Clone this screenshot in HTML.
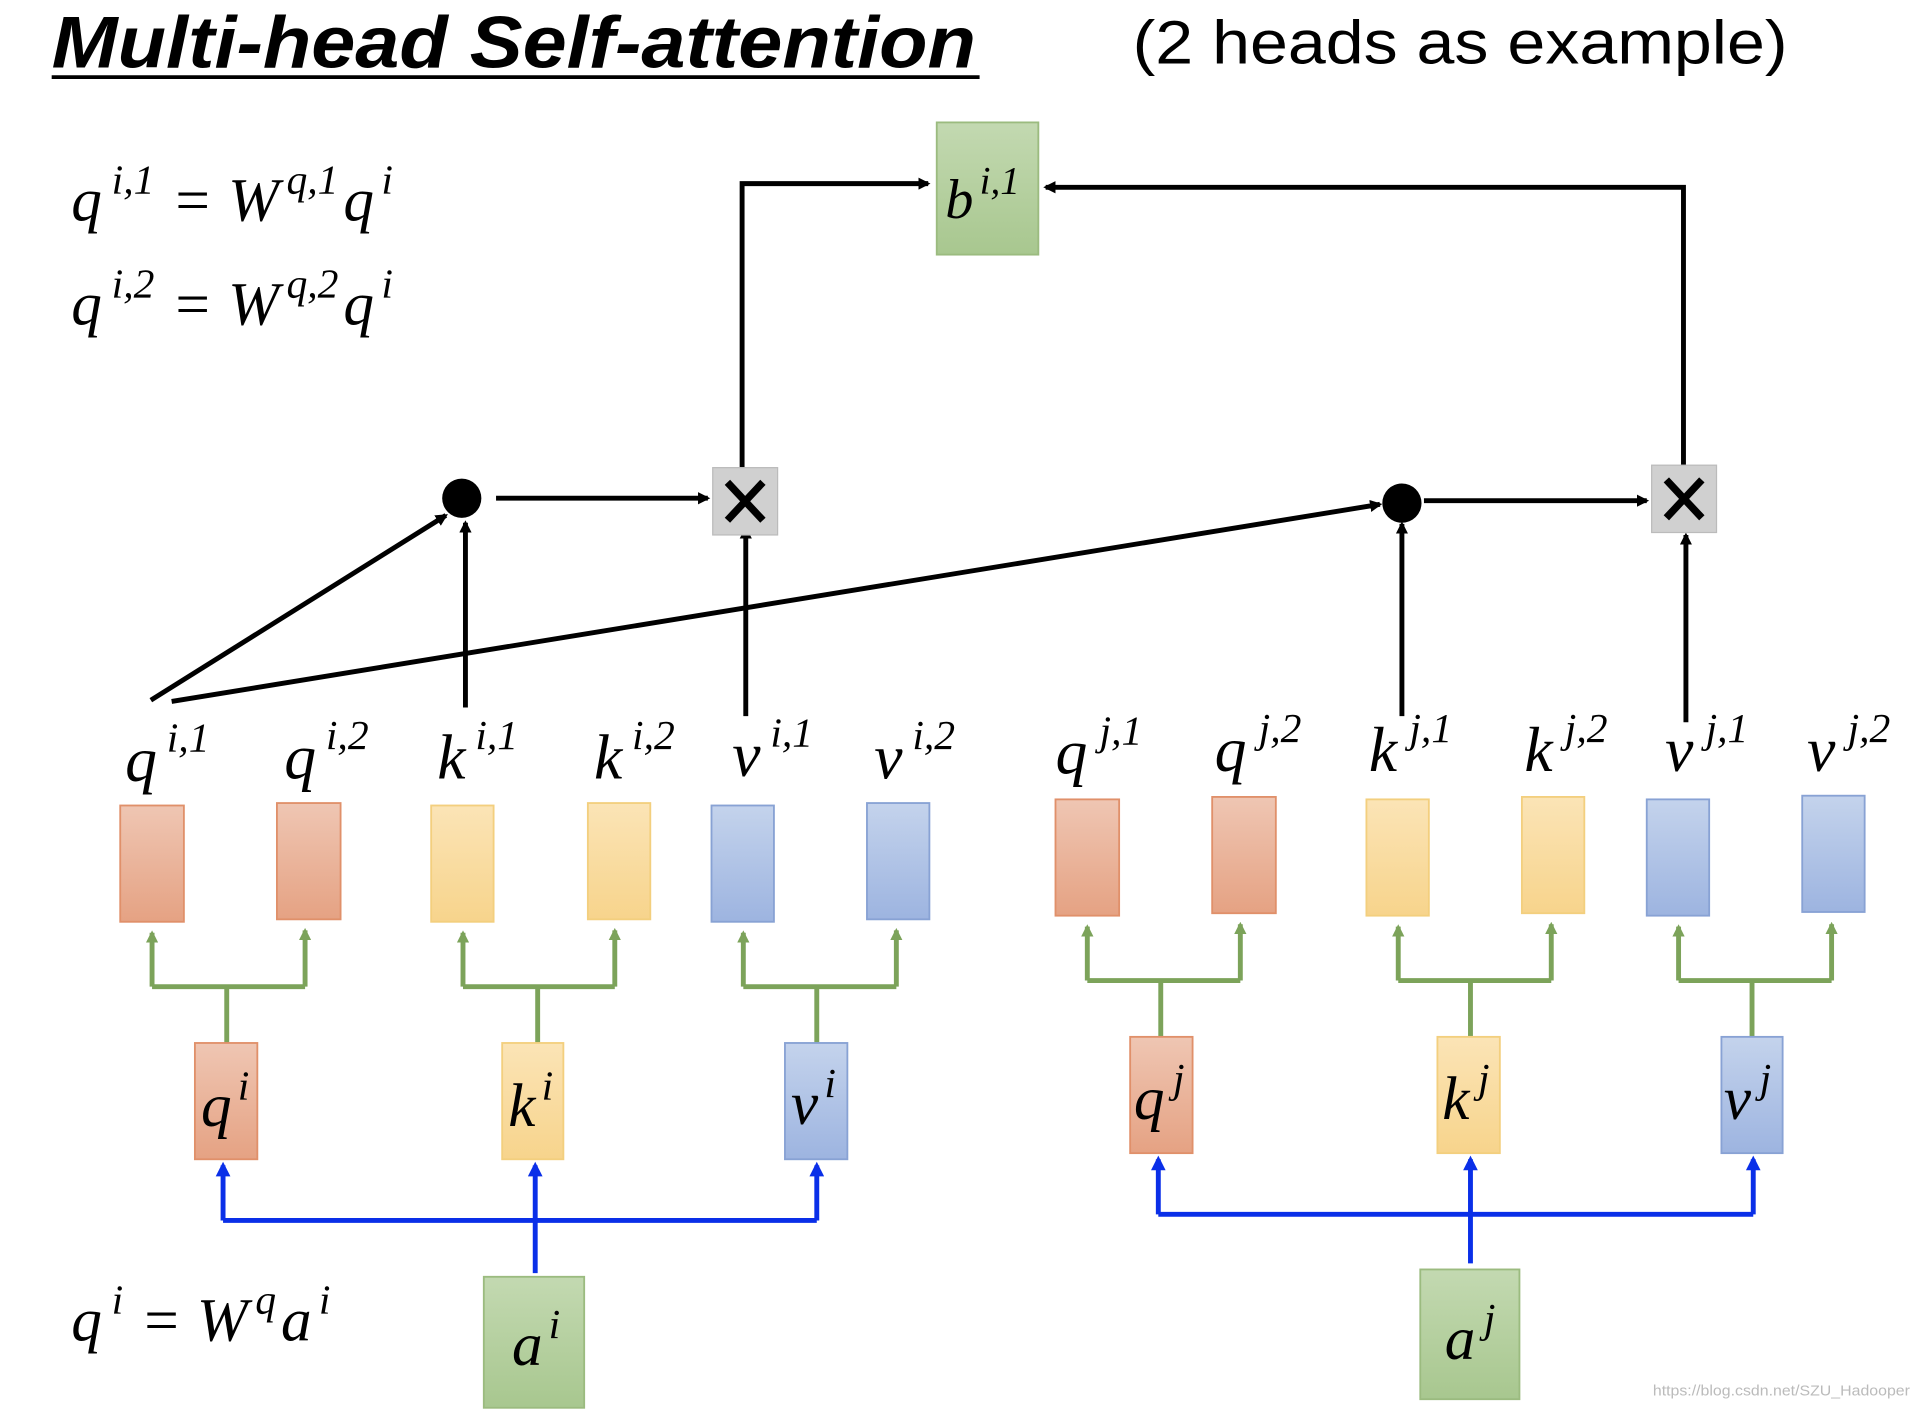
<!DOCTYPE html>
<html><head><meta charset="utf-8"><style>
html,body{margin:0;padding:0;background:#fff;}
svg{display:block}
.m{font-family:"Liberation Serif",serif;font-style:italic;fill:#000}
</style></head><body>
<svg width="1920" height="1409" viewBox="0 0 1568 1151" xmlns="http://www.w3.org/2000/svg">
<defs>
<linearGradient id="go" x1="0" y1="0" x2="0" y2="1"><stop offset="0" stop-color="#efc6b3"/><stop offset="1" stop-color="#e5a283"/></linearGradient>
<linearGradient id="gy" x1="0" y1="0" x2="0" y2="1"><stop offset="0" stop-color="#fbe4b6"/><stop offset="1" stop-color="#f7d48c"/></linearGradient>
<linearGradient id="gb" x1="0" y1="0" x2="0" y2="1"><stop offset="0" stop-color="#c4d3ec"/><stop offset="1" stop-color="#9db4e0"/></linearGradient>
<linearGradient id="gg" x1="0" y1="0" x2="0" y2="1"><stop offset="0" stop-color="#c3d9b1"/><stop offset="1" stop-color="#a8c78f"/></linearGradient>
<marker id="ak" markerWidth="10" markerHeight="10" refX="8" refY="5" orient="auto" markerUnits="userSpaceOnUse"><path d="M0,0 L10,5 L0,10 z" fill="#000"/></marker>
<marker id="ag" markerWidth="10" markerHeight="10" refX="8" refY="5" orient="auto" markerUnits="userSpaceOnUse"><path d="M0,0 L10,5 L0,10 z" fill="#7ca35a"/></marker>
<marker id="abl" markerWidth="12" markerHeight="12" refX="9" refY="6" orient="auto" markerUnits="userSpaceOnUse"><path d="M0,0 L12,6 L0,12 z" fill="#0a2fe8"/></marker>
</defs>
<text x="42" y="55" font-family="Liberation Sans,sans-serif" font-weight="bold" font-style="italic" font-size="60" textLength="755" lengthAdjust="spacingAndGlyphs">Multi-head Self-attention</text>
<line x1="42" y1="63" x2="800" y2="63" stroke="#000" stroke-width="3"/>
<text x="925" y="52" font-family="Liberation Sans,sans-serif" font-size="50" textLength="535" lengthAdjust="spacingAndGlyphs">(2 heads as example)</text>

<text class="m" x="58" y="180" font-size="50">q<tspan font-size="34" dx="8" dy="-22">i,1</tspan><tspan dx="14" dy="22">= W</tspan><tspan font-size="34" dx="6" dy="-22">q,1</tspan><tspan dx="4" dy="22">q</tspan><tspan font-size="34" dx="6" dy="-22">i</tspan></text>
<text class="m" x="58" y="265" font-size="50">q<tspan font-size="34" dx="8" dy="-22">i,2</tspan><tspan dx="14" dy="22">= W</tspan><tspan font-size="34" dx="6" dy="-22">q,2</tspan><tspan dx="4" dy="22">q</tspan><tspan font-size="34" dx="6" dy="-22">i</tspan></text>
<text class="m" x="58" y="1095" font-size="50">q<tspan font-size="34" dx="8" dy="-22">i</tspan><tspan dx="14" dy="22">= W</tspan><tspan font-size="34" dx="6" dy="-22">q</tspan><tspan dx="4" dy="22">a</tspan><tspan font-size="34" dx="6" dy="-22">i</tspan></text>

<rect x="765" y="100" width="83" height="108" fill="url(#gg)" stroke="#9bbb7f" stroke-width="1.5"/>
<text class="m" x="772" y="178" font-size="46">b<tspan font-size="32" dx="5" dy="-20">i,1</tspan></text>

<g stroke="#000" stroke-width="4" fill="none">
<polyline points="606,382 606,150 758,150" marker-end="url(#ak)"/>
<polyline points="1375,380 1375,153 854,153" marker-end="url(#ak)"/>
<line x1="405" y1="407" x2="578" y2="407" marker-end="url(#ak)"/>
<line x1="1163" y1="409" x2="1345" y2="409" marker-end="url(#ak)"/>
<line x1="123" y1="572" x2="364" y2="421" marker-end="url(#ak)"/>
<line x1="140" y1="573" x2="1127" y2="412" marker-end="url(#ak)"/>
<line x1="380" y1="578" x2="380" y2="427" marker-end="url(#ak)"/>
<line x1="609" y1="585" x2="609" y2="432" marker-end="url(#ak)"/>
<line x1="1145" y1="585" x2="1145" y2="428" marker-end="url(#ak)"/>
<line x1="1377" y1="590" x2="1377" y2="437" marker-end="url(#ak)"/>
</g>
<circle cx="377" cy="407" r="16" fill="#000"/>
<circle cx="1145" cy="411" r="16" fill="#000"/>
<rect x="582" y="382" width="53" height="55" fill="#d0d0d0" stroke="#bbb"/>
<rect x="1349" y="380" width="53" height="55" fill="#d0d0d0" stroke="#bbb"/>
<g stroke="#000" stroke-width="6"><line x1="594" y1="394" x2="623" y2="425"/><line x1="623" y1="394" x2="594" y2="425"/>
<line x1="1361" y1="392" x2="1390" y2="423"/><line x1="1390" y1="392" x2="1361" y2="423"/></g>

<g class="m" font-size="52">
<text x="102" y="638">q<tspan font-size="34" dx="8" dy="-24">i,1</tspan></text>
<text x="232" y="636">q<tspan font-size="34" dx="8" dy="-24">i,2</tspan></text>
<text x="357" y="636">k<tspan font-size="34" dx="8" dy="-24">i,1</tspan></text>
<text x="485" y="636">k<tspan font-size="34" dx="8" dy="-24">i,2</tspan></text>
<text x="598" y="634">v<tspan font-size="34" dx="8" dy="-24">i,1</tspan></text>
<text x="714" y="636">v<tspan font-size="34" dx="8" dy="-24">i,2</tspan></text>
<text x="862" y="632">q<tspan font-size="34" dx="10" dy="-24">j,1</tspan></text>
<text x="992" y="630">q<tspan font-size="34" dx="10" dy="-24">j,2</tspan></text>
<text x="1118" y="630">k<tspan font-size="34" dx="10" dy="-24">j,1</tspan></text>
<text x="1245" y="630">k<tspan font-size="34" dx="10" dy="-24">j,2</tspan></text>
<text x="1360" y="630">v<tspan font-size="34" dx="10" dy="-24">j,1</tspan></text>
<text x="1476" y="630">v<tspan font-size="34" dx="10" dy="-24">j,2</tspan></text>
</g>

<g stroke-width="1.5">
<rect x="98" y="658" width="52" height="95" fill="url(#go)" stroke="#e0906a"/>
<rect x="226" y="656" width="52" height="95" fill="url(#go)" stroke="#e0906a"/>
<rect x="352" y="658" width="51" height="95" fill="url(#gy)" stroke="#f3cf7e"/>
<rect x="480" y="656" width="51" height="95" fill="url(#gy)" stroke="#f3cf7e"/>
<rect x="581" y="658" width="51" height="95" fill="url(#gb)" stroke="#88a2d4"/>
<rect x="708" y="656" width="51" height="95" fill="url(#gb)" stroke="#88a2d4"/>
<rect x="862" y="653" width="52" height="95" fill="url(#go)" stroke="#e0906a"/>
<rect x="990" y="651" width="52" height="95" fill="url(#go)" stroke="#e0906a"/>
<rect x="1116" y="653" width="51" height="95" fill="url(#gy)" stroke="#f3cf7e"/>
<rect x="1243" y="651" width="51" height="95" fill="url(#gy)" stroke="#f3cf7e"/>
<rect x="1345" y="653" width="51" height="95" fill="url(#gb)" stroke="#88a2d4"/>
<rect x="1472" y="650" width="51" height="95" fill="url(#gb)" stroke="#88a2d4"/>
</g>

<g stroke="#7ca35a" stroke-width="4" fill="none">
<polyline points="185,852 185,806"/><polyline points="124,806 249,806"/>
<line x1="124" y1="806" x2="124" y2="762" marker-end="url(#ag)"/><line x1="249" y1="806" x2="249" y2="760" marker-end="url(#ag)"/>
<polyline points="439,852 439,806"/><polyline points="378,806 502,806"/>
<line x1="378" y1="806" x2="378" y2="762" marker-end="url(#ag)"/><line x1="502" y1="806" x2="502" y2="760" marker-end="url(#ag)"/>
<polyline points="667,852 667,806"/><polyline points="607,806 732,806"/>
<line x1="607" y1="806" x2="607" y2="762" marker-end="url(#ag)"/><line x1="732" y1="806" x2="732" y2="760" marker-end="url(#ag)"/>
<polyline points="948,847 948,801"/><polyline points="888,801 1013,801"/>
<line x1="888" y1="801" x2="888" y2="757" marker-end="url(#ag)"/><line x1="1013" y1="801" x2="1013" y2="755" marker-end="url(#ag)"/>
<polyline points="1201,847 1201,801"/><polyline points="1142,801 1267,801"/>
<line x1="1142" y1="801" x2="1142" y2="757" marker-end="url(#ag)"/><line x1="1267" y1="801" x2="1267" y2="755" marker-end="url(#ag)"/>
<polyline points="1431,847 1431,801"/><polyline points="1371,801 1496,801"/>
<line x1="1371" y1="801" x2="1371" y2="757" marker-end="url(#ag)"/><line x1="1496" y1="801" x2="1496" y2="755" marker-end="url(#ag)"/>
</g>

<g stroke-width="1.5">
<rect x="159" y="852" width="51" height="95" fill="url(#go)" stroke="#e0906a"/>
<rect x="410" y="852" width="50" height="95" fill="url(#gy)" stroke="#f3cf7e"/>
<rect x="641" y="852" width="51" height="95" fill="url(#gb)" stroke="#88a2d4"/>
<rect x="923" y="847" width="51" height="95" fill="url(#go)" stroke="#e0906a"/>
<rect x="1174" y="847" width="51" height="95" fill="url(#gy)" stroke="#f3cf7e"/>
<rect x="1406" y="847" width="50" height="95" fill="url(#gb)" stroke="#88a2d4"/>
</g>
<g class="m" font-size="50">
<text x="164" y="920">q<tspan font-size="34" dx="5" dy="-22">i</tspan></text>
<text x="415" y="920">k<tspan font-size="34" dx="5" dy="-22">i</tspan></text>
<text x="646" y="918">v<tspan font-size="34" dx="5" dy="-22">i</tspan></text>
<text x="926" y="914">q<tspan font-size="34" dx="7" dy="-22">j</tspan></text>
<text x="1178" y="914">k<tspan font-size="34" dx="7" dy="-22">j</tspan></text>
<text x="1408" y="914">v<tspan font-size="34" dx="7" dy="-22">j</tspan></text>
</g>

<g stroke="#0a2fe8" stroke-width="4" fill="none">
<line x1="437" y1="1040" x2="437" y2="952" marker-end="url(#abl)"/>
<polyline points="182,997 667,997"/>
<line x1="182" y1="997" x2="182" y2="952" marker-end="url(#abl)"/>
<line x1="667" y1="997" x2="667" y2="952" marker-end="url(#abl)"/>
<line x1="1201" y1="1032" x2="1201" y2="947" marker-end="url(#abl)"/>
<polyline points="946,992 1432,992"/>
<line x1="946" y1="992" x2="946" y2="947" marker-end="url(#abl)"/>
<line x1="1432" y1="992" x2="1432" y2="947" marker-end="url(#abl)"/>
</g>

<rect x="395" y="1043" width="82" height="107" fill="url(#gg)" stroke="#9bbb7f" stroke-width="1.5"/>
<rect x="1160" y="1037" width="81" height="106" fill="url(#gg)" stroke="#9bbb7f" stroke-width="1.5"/>
<text class="m" x="418" y="1115" font-size="50">a<tspan font-size="34" dx="5" dy="-22">i</tspan></text>
<text class="m" x="1180" y="1110" font-size="50">a<tspan font-size="34" dx="7" dy="-22">j</tspan></text>

<text x="1350" y="1140" font-family="Liberation Sans,sans-serif" font-size="12" fill="#bbb" textLength="210" lengthAdjust="spacingAndGlyphs">https://blog.csdn.net/SZU_Hadooper</text>
</svg>
</body></html>
